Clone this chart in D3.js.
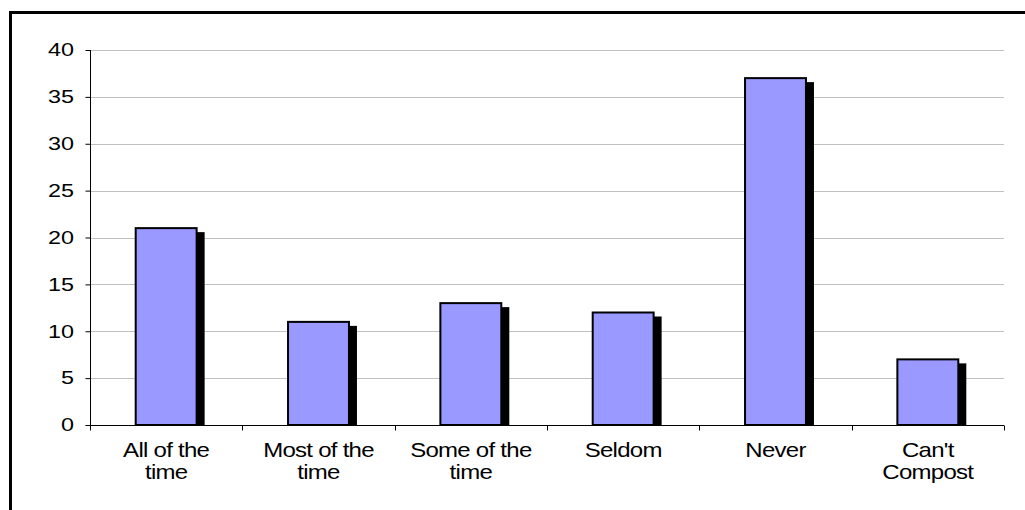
<!DOCTYPE html>
<html><head><meta charset="utf-8">
<script src="https://cdn.jsdelivr.net/npm/d3@7"></script>
<style>body{margin:0;background:#fff}svg{display:block}</style>
</head><body>
<script>
const categories = [["All of the","time"],["Most of the","time"],["Some of the","time"],["Seldom"],["Never"],["Can't","Compost"]];
const values = [21, 11, 13, 12, 37, 7];
const yTicks = [0,5,10,15,20,25,30,35,40];

(function(){
const W = 1025, H = 510;
const svg = d3.select("body").append("svg").attr("width", W).attr("height", H);
svg.append("rect").attr("width", W).attr("height", H).attr("fill", "#fff");
// outer frame
svg.append("rect").attr("x", 10.5).attr("y", 12.5).attr("width", 1030).attr("height", 520)
  .attr("fill", "none").attr("stroke", "#000").attr("stroke-width", 3);

const pL = 90, pR = 1004, pT = 50, pB = 425;
const keys = categories.map((c,i)=>i);
const x = d3.scaleBand().domain(keys).range([pL, pR]).paddingInner(0).paddingOuter(0);
const y = d3.scaleLinear().domain([0, 40]).range([pB, pT]);

// gridlines
svg.append("g").selectAll("line").data(yTicks.filter(t=>t>0)).join("line")
  .attr("x1", pL).attr("x2", pR).attr("y1", d=>Math.round(y(d))+0.5).attr("y2", d=>Math.round(y(d))+0.5)
  .attr("stroke", "#c0c0c0").attr("stroke-width", 1);

const font = "'Liberation Sans', Arial, sans-serif";
const barW = x.bandwidth()*0.4;
const g = svg.append("g");
// shadows
g.selectAll("rect.sh").data(values).join("rect").attr("class","sh")
  .attr("x", (d,i)=>x(i)+x.bandwidth()/2 - barW/2 + 8)
  .attr("y", d=>y(d)+4)
  .attr("width", barW).attr("height", d=>pB - y(d) - 4)
  .attr("fill", "#000");
// bars
g.selectAll("rect.bar").data(values).join("rect").attr("class","bar")
  .attr("x", (d,i)=>x(i)+x.bandwidth()/2 - barW/2)
  .attr("y", d=>y(d))
  .attr("width", barW).attr("height", d=>pB - y(d))
  .attr("fill", "#9999FF").attr("stroke", "#000").attr("stroke-width", 2);

// y axis
const yAxis = d3.axisLeft(y).tickValues(yTicks).tickSize(5).tickPadding(12).tickFormat(()=>"");
const ya = svg.append("g").attr("transform", `translate(${pL+0.5},0)`).call(yAxis);
ya.select(".domain").attr("stroke", "#000").attr("d", `M0,${pT}V${pB}`);
ya.selectAll(".tick line").attr("stroke", "#000");
svg.append("g").selectAll("text").data(yTicks).join("text")
  .attr("transform", d=>`translate(74,${y(d)}) scale(1.3,1)`)
  .attr("dy", "0.35em").attr("text-anchor", "end")
  .attr("font-family", font).attr("font-size", 18).attr("fill", "#000")
  .text(d=>d);

// x axis
const xa = svg.append("g").attr("transform", `translate(0,${pB+0.5})`);
xa.append("line").attr("x1", pL).attr("x2", pR).attr("stroke", "#000");
const bounds = keys.map(k=>x(k)).concat([pR]);
xa.selectAll("line.t").data(bounds).join("line").attr("class","t")
  .attr("x1", d=>Math.round(d)+0.5).attr("x2", d=>Math.round(d)+0.5).attr("y1", 0).attr("y2", 5).attr("stroke", "#000");
const lbl = xa.selectAll("text").data(categories).join("text")
  .attr("transform", (d,i)=>`translate(${x(i)+x.bandwidth()/2},31) scale(1.2,1)`)
  .attr("text-anchor", "middle").attr("font-family", font).attr("font-size", 20).attr("letter-spacing", "-0.6").attr("fill", "#000");
lbl.selectAll("tspan").data(d=>d).join("tspan")
  .attr("x", 0)
  .attr("dy", (d,i)=>i===0?0:23).text(d=>d);
})();
</script>
</body></html>
